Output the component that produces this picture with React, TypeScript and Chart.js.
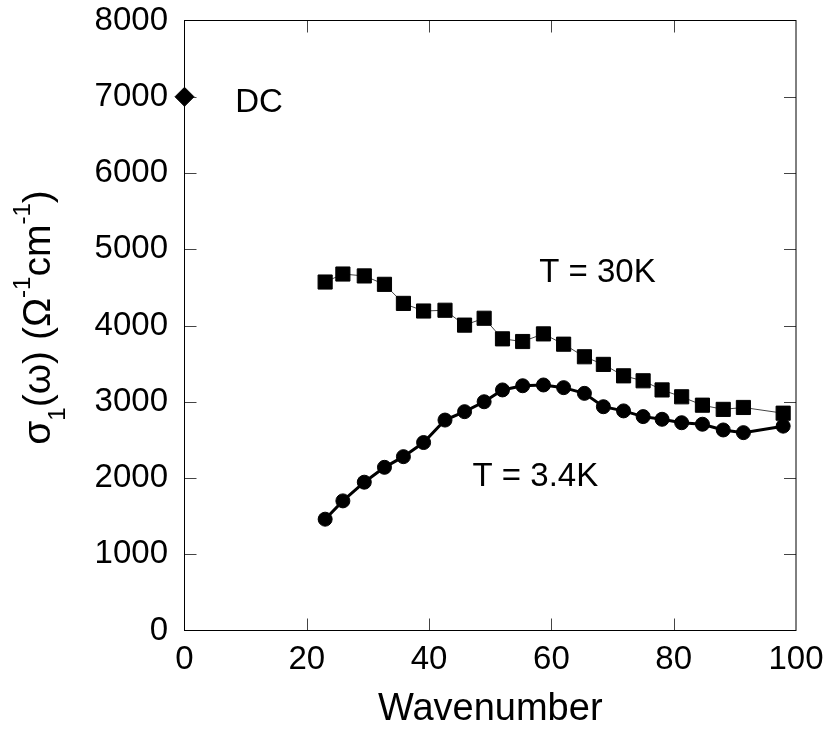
import React, { useEffect, useRef } from "react";
import { Chart, registerables } from "chart.js";

Chart.register(...registerables);

const FONT = "'Liberation Sans', Arial, Helvetica, sans-serif";

// Wavenumber positions (shared by both temperature series)
const wavenumbers = [23.0, 25.9, 29.4, 32.7, 35.8, 39.1, 42.6, 45.8, 49.0, 52.0, 55.3, 58.7, 62.0, 65.4, 68.5, 71.8, 75.0, 78.1, 81.3, 84.7, 88.1, 91.4, 97.9];
// sigma_1 at T = 30K (squares)
const sigma30K = [4570, 4675, 4650, 4540, 4290, 4190, 4200, 4005, 4095, 3825, 3790, 3890, 3755, 3590, 3490, 3340, 3275, 3155, 3065, 2955, 2900, 2925, 2850];
// sigma_1 at T = 3.4K (circles)
const sigma34K = [1460, 1700, 1945, 2140, 2280, 2465, 2760, 2870, 3000, 3155, 3210, 3220, 3185, 3110, 2935, 2880, 2805, 2770, 2725, 2705, 2630, 2595, 2680];
// DC value
const dcWavenumber = [0];
const dcSigma = [7000];

// Axis ranges / ticks
const xMin = 0, xMax = 100, xStep = 20;
const yMin = 0, yMax = 8000, yStep = 1000;
const xTitle = "Wavenumber";
const yTitleParts = [
  { text: "σ", kind: "main" },
  { text: "1", kind: "sub" },
  { text: "(ω) (Ω", kind: "main" },
  { text: "-1", kind: "sup" },
  { text: "cm", kind: "main" },
  { text: "-1", kind: "sup" },
  { text: ")", kind: "main" },
];

// Text labels anchored in data coordinates (left edge, baseline)
const annotationTexts = ["DC", "T = 30K", "T = 3.4K"];
const annotationX = [8.3, 58.0, 47.1];
const annotationY = [6800, 4570, 1895];

const toPoints = (xs: number[], ys: number[]) => ys.map((y, i) => ({ x: xs[i], y }));

const framePlugin = {
  id: "frameTicks",
  beforeDatasetsDraw(chart: any) {
    const { ctx, chartArea } = chart;
    const { left, right, top, bottom } = chartArea;
    const xs = chart.scales.x;
    const ys = chart.scales.y;
    const tl = 12;
    ctx.save();
    ctx.lineWidth = 1;
    ctx.strokeStyle = "#444";
    ctx.beginPath();
    for (let v = xMin + xStep; v < xMax; v += xStep) {
      const px = Math.round(xs.getPixelForValue(v)) + 0.5;
      ctx.moveTo(px, bottom);
      ctx.lineTo(px, bottom - tl);
      ctx.moveTo(px, top);
      ctx.lineTo(px, top + tl);
    }
    for (let v = yMin + yStep; v < yMax; v += yStep) {
      const py = Math.round(ys.getPixelForValue(v)) + 0.5;
      ctx.moveTo(left, py);
      ctx.lineTo(left + tl, py);
      ctx.moveTo(right, py);
      ctx.lineTo(right - tl, py);
    }
    ctx.stroke();
    ctx.strokeStyle = "#000";
    ctx.strokeRect(left, top, right - left, bottom - top);
    ctx.restore();
  },
  afterDraw(chart: any) {
    const { ctx, chartArea } = chart;
    const xs = chart.scales.x;
    const ys = chart.scales.y;
    ctx.save();
    ctx.fillStyle = "#000";
    // annotations
    ctx.font = `33px ${FONT}`;
    ctx.textAlign = "left";
    ctx.textBaseline = "alphabetic";
    annotationTexts.forEach((t, i) => {
      ctx.fillText(t, xs.getPixelForValue(annotationX[i]), ys.getPixelForValue(annotationY[i]));
    });
    // x title
    ctx.font = `38px ${FONT}`;
    ctx.textAlign = "center";
    ctx.fillText(xTitle, (chartArea.left + chartArea.right) / 2, 720);
    // y title (rotated, with sub/superscripts)
    const mainFont = `39px ${FONT}`;
    const smallFont = `24px ${FONT}`;
    const widths = yTitleParts.map((p) => {
      ctx.font = p.kind === "main" ? mainFont : smallFont;
      return ctx.measureText(p.text).width;
    });
    const total = widths.reduce((a, b) => a + b, 0);
    const cy = (chartArea.top + chartArea.bottom) / 2 - 8;
    ctx.translate(50, cy);
    ctx.rotate(-Math.PI / 2);
    ctx.textAlign = "left";
    let pos = -total / 2;
    yTitleParts.forEach((p, i) => {
      ctx.font = p.kind === "main" ? mainFont : smallFont;
      const dy = p.kind === "sub" ? 15 : p.kind === "sup" ? -20 : 0;
      ctx.fillText(p.text, pos, dy);
      pos += widths[i];
    });
    ctx.restore();
  },
};

export default function App() {
  const canvasRef = useRef<HTMLCanvasElement | null>(null);

  useEffect(() => {
    const canvas = canvasRef.current;
    if (!canvas) return;
    const chart = new Chart(canvas, {
      type: "line",
      data: {
        datasets: [
          {
            label: "T = 3.4K",
            data: toPoints(wavenumbers, sigma34K),
            borderColor: "#000",
            borderWidth: 3,
            pointStyle: "circle",
            pointRadius: 7,
            pointBorderWidth: 1,
            pointBackgroundColor: "#000",
            pointBorderColor: "#000",
            tension: 0,
            order: 0,
          },
          {
            label: "T = 30K",
            data: toPoints(wavenumbers, sigma30K),
            borderColor: "#444",
            borderWidth: 1,
            pointStyle: "rect",
            pointRadius: 10,
            pointBorderWidth: 1,
            pointBackgroundColor: "#000",
            pointBorderColor: "#000",
            tension: 0,
            order: 1,
          },
          {
            label: "DC",
            data: toPoints(dcWavenumber, dcSigma),
            showLine: false,
            pointStyle: "rectRot",
            pointRadius: 9.5,
            pointBorderWidth: 1,
            pointBackgroundColor: "#000",
            pointBorderColor: "#000",
            clip: false,
            order: 2,
          } as any,
        ],
      },
      options: {
        animation: false,
        responsive: false,
        devicePixelRatio: 1,
        events: [],
        layout: { padding: { top: 20.5, right: 29, bottom: 0, left: 0 } },
        plugins: { legend: { display: false }, tooltip: { enabled: false } },
        scales: {
          x: {
            type: "linear",
            min: xMin,
            max: xMax,
            grid: { display: false, drawTicks: false },
            border: { display: false },
            ticks: {
              stepSize: xStep,
              padding: 10,
              color: "#000",
              font: { family: FONT, size: 33 },
              maxRotation: 0,
              callback: (v: any) => String(v),
            },
            afterFit: (scale: any) => {
              scale.height = 98.5;
              scale.paddingLeft = 0;
              scale.paddingRight = 0;
            },
          },
          y: {
            type: "linear",
            min: yMin,
            max: yMax,
            grid: { display: false, drawTicks: false },
            border: { display: false },
            ticks: {
              stepSize: yStep,
              padding: 16.5,
              color: "#000",
              font: { family: FONT, size: 33 },
              callback: (v: any) => String(v),
            },
            afterFit: (scale: any) => {
              scale.width = 184.5;
              scale.paddingTop = 0;
              scale.paddingBottom = 0;
            },
          },
        },
      },
      plugins: [framePlugin],
    });
    return () => chart.destroy();
  }, []);

  return (
    <div style={{ position: "absolute", left: 0, top: 0, width: 825, height: 729, background: "#fff" }}>
      <canvas ref={canvasRef} width={825} height={729} />
    </div>
  );
}
